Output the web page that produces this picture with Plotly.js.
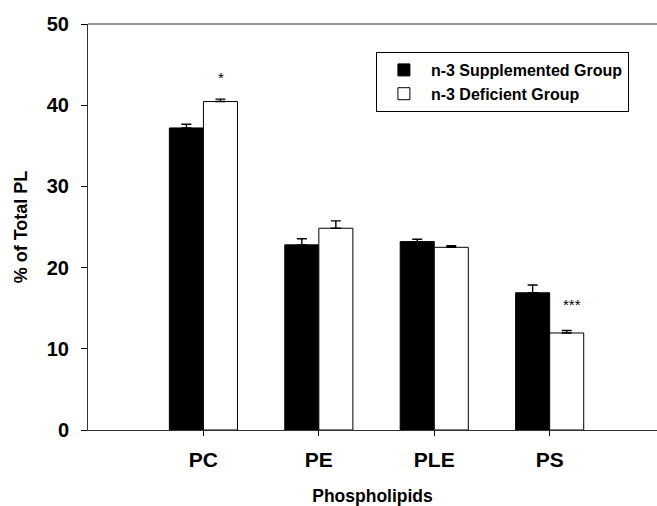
<!DOCTYPE html>
<html>
<head>
<meta charset="utf-8">
<script src="https://cdn.plot.ly/plotly-3.0.1.min.js"></script>
<style>html,body{margin:0;padding:0;background:#fff;}#chart{width:657px;height:506px;}</style>
</head>
<body>
<div id="chart"></div>
<script>
const categories = ["PC", "PE", "PLE", "PS"];
const supplemented = [37.2, 22.8, 23.2, 16.9];
const supplementedErr = [0.45, 0.75, 0.3, 0.95];
const deficient = [40.45, 24.85, 22.5, 11.95];
const deficientErr = [0.3, 0.9, 0.2, 0.3];
const sigLabels = ["*", "", "", "***"];
const sigY = [43.4, null, null, 15.5];

const fontFam = "Liberation Sans, Arial, sans-serif";

const traces = [
  {
    type: "bar", name: "n-3 Supplemented Group", x: categories, y: supplemented,
    marker: {color: "#000000", line: {color: "#000000", width: 1}},
    error_y: {type: "data", array: supplementedErr, arrayminus: supplementedErr.map(() => 0), symmetric: false, color: "#000", thickness: 1.4, width: 5}
  },
  {
    type: "bar", name: "n-3 Deficient Group", x: categories, y: deficient,
    marker: {color: "#ffffff", line: {color: "#000000", width: 1}},
    error_y: {type: "data", array: deficientErr, arrayminus: deficientErr.map(() => 0), symmetric: false, color: "#000", thickness: 1.4, width: 5}
  }
];

const annotations = [];
categories.forEach((c, i) => {
  if (sigLabels[i]) {
    annotations.push({
      x: i + 0.15, y: sigY[i], xref: "x", yref: "y", text: sigLabels[i], showarrow: false,
      xshift: sigLabels[i].length > 1 ? 5 : 0,
      font: {family: fontFam, size: 15, color: "#000"}
    });
  }
});

const layout = {
  width: 657, height: 506,
  margin: {l: 88, r: 0, t: 24, b: 76},
  paper_bgcolor: "#fff", plot_bgcolor: "#fff",
  barmode: "group", bargap: 0.41, bargroupgap: 0,
  showlegend: true,
  legend: {
    x: 0.506, y: 0.931, xanchor: "left", yanchor: "top",
    bordercolor: "#000", borderwidth: 1, bgcolor: "#fff",
    font: {family: fontFam, size: 16, color: "#000", weight: "bold"},
    traceorder: "normal", itemwidth: 44
  },
  shapes: [
    {type: "line", xref: "paper", yref: "paper", x0: 0, x1: 1, y0: 1, y1: 1, line: {color: "#333", width: 1}}
  ],
  xaxis: {
    type: "category", range: [-1.0, 3.93],
    showline: true, linecolor: "#333", linewidth: 1,
    ticks: "outside", ticklen: 5, tickcolor: "#000", ticklabelstandoff: 6,
    showgrid: false, zeroline: false,
    tickfont: {family: fontFam, size: 21, color: "#000", weight: "bold"},
    title: {text: "Phospholipids", font: {family: fontFam, size: 17.5, color: "#000", weight: "bold"}, standoff: 32}
  },
  yaxis: {
    range: [0, 50], tickvals: [0, 10, 20, 30, 40, 50],
    showline: true, linecolor: "#333", linewidth: 1,
    ticks: "outside", ticklen: 6, tickcolor: "#000", ticklabelstandoff: 8,
    showgrid: false, zeroline: false,
    tickfont: {family: fontFam, size: 20, color: "#000", weight: "bold"},
    title: {text: "% of Total PL", font: {family: fontFam, size: 18, color: "#000", weight: "bold"}, standoff: 14}
  },
  annotations: annotations
};

Plotly.newPlot("chart", traces, layout, {displayModeBar: false, staticPlot: true});
</script>
</body>
</html>
